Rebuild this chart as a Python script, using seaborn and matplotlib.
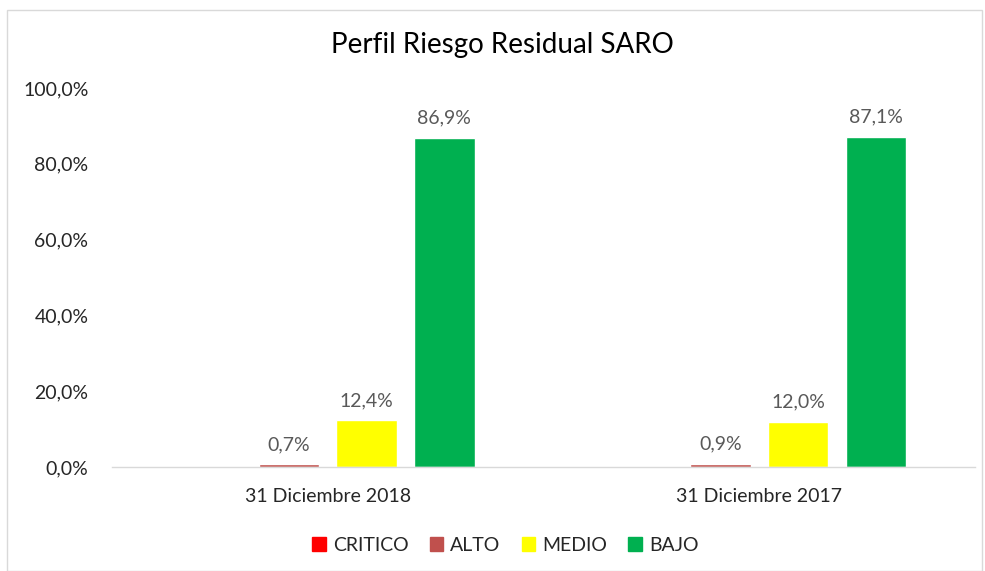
import matplotlib.pyplot as plt
import matplotlib.patches as mpatches
import pandas as pd
import seaborn as sns

# data
fechas = ['31 Diciembre 2018', '31 Diciembre 2017']
niveles = ['CRITICO', 'ALTO', 'MEDIO', 'BAJO']
critico = [0.0, 0.0]
alto = [0.7, 0.9]
medio = [12.4, 12.0]
bajo = [86.9, 87.1]
colores = ['#FF0000', '#C0504D', '#FFFF00', '#00B050']

valores = {'CRITICO': critico, 'ALTO': alto, 'MEDIO': medio, 'BAJO': bajo}
rows = []
for nivel in niveles:
    for fecha, v in zip(fechas, valores[nivel]):
        rows.append({'fecha': fecha, 'nivel': nivel, 'valor': v})
df = pd.DataFrame(rows)

sns.set_style('white')
plt.rcParams['font.family'] = ['Lato', 'DejaVu Sans']

fig = plt.figure(figsize=(9.85, 5.71), dpi=100)
ax = fig.add_axes([0.1137, 0.182, 0.8763, 0.664])

sns.barplot(data=df, x='fecha', y='valor', hue='nivel', hue_order=niveles,
            palette=colores, width=0.72, gap=0.22, saturation=1,
            order=fechas, ax=ax, legend=False)

# data labels, skipping the empty series
for cont in ax.containers:
    labels = [('%.1f%%' % b.get_height()).replace('.', ',') if b.get_height() > 0 else ''
              for b in cont]
    ax.bar_label(cont, labels=labels, padding=8, fontsize=14, color='#595959')

ax.set_ylim(0, 100)
ax.set_xlim(-0.5, 1.5)
ax.set_yticks(range(0, 101, 20))
ax.set_yticklabels([('%.1f%%' % t).replace('.', ',') for t in range(0, 101, 20)])
ax.tick_params(axis='y', length=0, pad=17, labelsize=14, labelcolor='#262626')
ax.tick_params(axis='x', length=0, pad=15, labelsize=14, labelcolor='#262626')
ax.set_xlabel('')
ax.set_ylabel('')
for s in ['top', 'right', 'left']:
    ax.spines[s].set_visible(False)
ax.spines['bottom'].set_color('#D9D9D9')
ax.spines['bottom'].set_linewidth(1)

fig.text(0.51, 0.921, 'Perfil Riesgo Residual SARO', ha='center', va='center',
         fontsize=20, color='#000000')

handles = [mpatches.Patch(color=c, label=n) for n, c in zip(niveles, colores)]
fig.legend(handles=handles, loc='center', bbox_to_anchor=(0.513, 0.045), ncol=4,
           frameon=False, fontsize=14, handlelength=0.7, handleheight=0.7,
           handletextpad=0.35, columnspacing=1.1)

# outer chart border
fig.patches.append(mpatches.Rectangle((0.007, 0.0), 0.99, 0.982, transform=fig.transFigure,
                                      fill=False, edgecolor='#D9D9D9', linewidth=1))

fig.savefig('out.png', dpi=100)
